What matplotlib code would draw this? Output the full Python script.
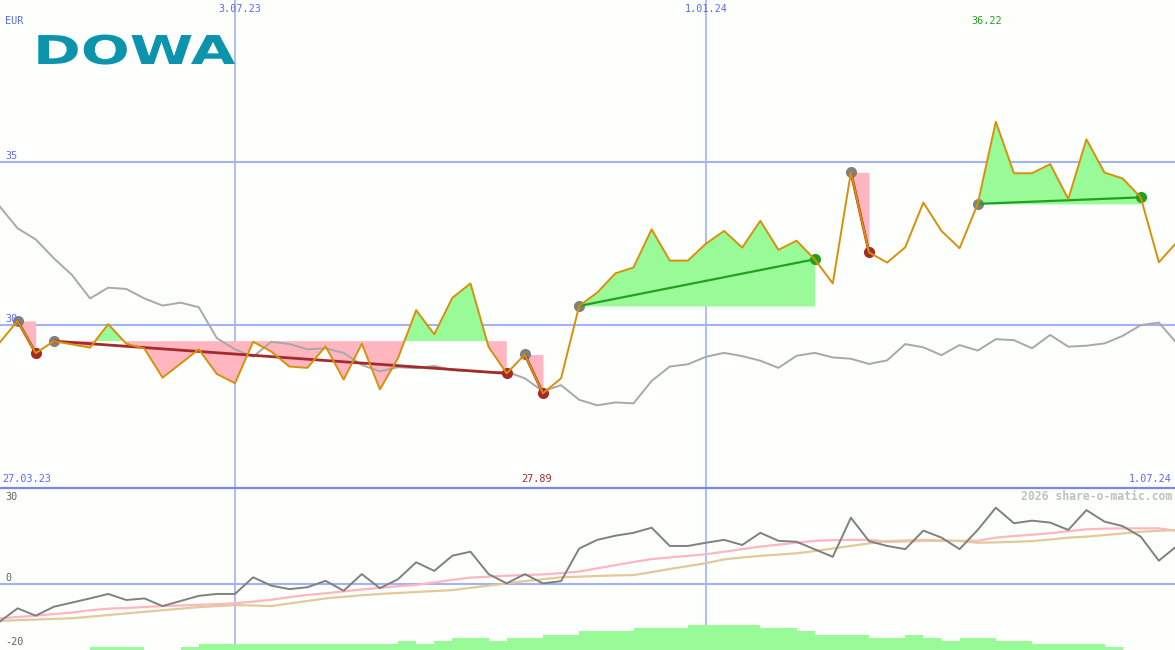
import matplotlib
matplotlib.use('Agg')
import matplotlib.pyplot as plt
import numpy as np
from matplotlib.patheffects import AbstractPathEffect
from matplotlib.transforms import Affine2D

# ---------------- data (weekly samples, index 0 = 3.04.23 ... 65 = 1.07.24) ----------------
price = [29.44, 30.11, 29.12, 29.49, 29.39, 29.29, 30.01, 29.41, 29.26, 28.37,
         28.80, 29.24, 28.48, 28.20, 29.47, 29.17, 28.71, 28.67, 29.33, 28.31,
         29.41, 28.01, 28.97, 30.44, 29.70, 30.82, 31.26, 29.31, 28.50, 29.08,
         27.89, 28.35, 30.57, 30.98, 31.57, 31.75, 32.92, 31.96, 31.96, 32.48,
         32.87, 32.36, 33.18, 32.29, 32.57, 32.00, 31.26, 34.67, 32.21, 31.90,
         32.37, 33.74, 32.87, 32.34, 33.70, 36.22, 34.64, 34.64, 34.92, 33.85,
         35.68, 34.66, 34.48, 33.90, 31.91, 32.53]

benchmark = [33.63, 32.95, 32.61, 32.03, 31.52, 30.80, 31.13, 31.09, 30.80, 30.58,
             30.67, 30.53, 29.58, 29.24, 29.01, 29.47, 29.40, 29.24, 29.27, 29.13,
             28.76, 28.56, 28.69, 28.66, 28.73, 28.60, 28.57, 28.53, 28.55, 28.35,
             27.95, 28.14, 27.69, 27.52, 27.61, 27.58, 28.27, 28.71, 28.78, 29.01,
             29.13, 29.03, 28.89, 28.67, 29.04, 29.13, 28.99, 28.95, 28.79, 28.90,
             29.40, 29.30, 29.06, 29.37, 29.20, 29.55, 29.52, 29.27, 29.68, 29.32,
             29.35, 29.42, 29.65, 29.98, 30.06, 29.42]

perf = [-11.9, -7.7, -10.0, -7.2, -5.9, -4.6, -3.2, -5.1, -4.6, -7.0,
        -5.4, -3.8, -3.2, -3.2, 2.0, -0.6, -1.7, -1.1, 0.9, -2.2,
        3.0, -1.4, 1.4, 6.7, 4.0, 8.75, 10.0, 3.0, 0.1, 3.0,
        0.1, 0.8, 11.0, 13.7, 15.0, 15.9, 17.5, 11.8, 11.8, 12.8,
        13.7, 12.1, 15.9, 13.4, 13.1, 10.75, 8.4, 20.6, 13.3, 11.8,
        10.8, 16.6, 14.4, 10.8, 16.8, 23.75, 18.9, 19.7, 19.1, 16.8,
        23.0, 19.4, 18.0, 14.7, 7.2, 11.8]

avg_fast = [-10.8, -10.4, -10.0, -9.5, -9.0, -8.3, -7.8, -7.6, -7.3, -7.0,
            -6.8, -6.6, -6.4, -6.1, -5.6, -5.0, -4.2, -3.5, -3.0, -2.4,
            -1.8, -1.3, -0.8, -0.4, 0.4, 1.2, 1.9, 2.2, 2.5, 2.7,
            2.9, 3.3, 3.8, 4.8, 5.8, 6.8, 7.7, 8.2, 8.7, 9.2,
            10.0, 10.8, 11.6, 12.2, 12.8, 13.4, 13.6, 13.7, 13.7, 13.1,
            13.2, 13.4, 13.4, 13.4, 13.4, 14.4, 14.9, 15.3, 15.75, 16.4,
            17.0, 17.2, 17.3, 17.3, 17.3, 16.5]

avg_slow = [-11.6, -11.4, -11.2, -11.0, -10.8, -10.3, -9.8, -9.3, -8.8, -8.3,
            -7.8, -7.3, -7.0, -6.7, -6.8, -7.0, -6.2, -5.4, -4.6, -4.1,
            -3.6, -3.2, -2.9, -2.6, -2.3, -2.0, -1.3, -0.6, 0.1, 0.8,
            1.4, 2.0, 2.2, 2.4, 2.6, 2.7, 3.6, 4.6, 5.5, 6.4,
            7.6, 8.2, 8.7, 9.1, 9.5, 10.2, 11.0, 11.8, 12.6, 13.3,
            13.5, 13.7, 13.5, 13.3, 12.8, 12.9, 13.1, 13.3, 13.8, 14.4,
            14.7, 15.2, 15.7, 16.25, 16.5, 16.8]

# step bars (one value per week interval)
bars = [0, 0, 0, 0, 0, 1, 1, 1, 0, 0,
        1, 2, 2, 2, 2, 2, 2, 2, 2, 2,
        2, 2, 3, 2, 3, 4, 4, 3, 4, 4,
        5, 5, 6, 6, 6, 7, 7, 7, 8, 8,
        8, 8, 7, 7, 6, 5, 5, 5, 4, 4,
        5, 4, 3, 4, 4, 3, 3, 2, 2, 2,
        2, 1, 0, 0, 0]

# signal periods: (start index, end index, result)
signals = [(1, 2, 'loss'), (3, 28, 'loss'), (29, 30, 'loss'),
           (32, 45, 'gain'), (47, 48, 'loss'), (54, 63, 'gain')]

date_idx = [13, 39]
date_labels = ['3.07.23', '1.01.24']
price_grid = [35, 30]
first_date = '27.03.23'
last_date = '1.07.24'
max_label = '36.22'
min_label = '27.89'

# ---------------- style ----------------
W, H = 1175, 650
BG = '#fdfffd'
GRID = '#a2b2f2'
BORDER = '#7787ea'
BLUE_TXT = '#5a6af0'
ORANGE = '#d8900a'
GREEN_FILL = '#98fb98'
PINK_FILL = '#ffb6c1'
LOSS = '#a52a2a'
GAIN = '#22a022'
MONO = 'DejaVu Sans Mono'

idx = np.arange(len(price))
price_a = np.array(price)

fig = plt.figure(figsize=(W / 100, H / 100), dpi=100, facecolor=BG)

# x mapping: pixel = -0.5 + 18.115 * index
XL = (0.5 / 18.115, 1175.5 / 18.115)
top_h = 487
ax1 = fig.add_axes([0, 1 - top_h / H, 1, top_h / H])
ax1.set_facecolor(BG)
ax1.set_xlim(*XL)
ax1.set_ylim(30 - 162.5 / 32.6, 30 + 324.5 / 32.6)
ax1.axis('off')

for p in price_grid:
    ax1.axhline(p, color=GRID, lw=1.5, zorder=0)
for d in date_idx:
    ax1.axvline(d, color=GRID, lw=1.2, zorder=0)

ax1.plot(idx, benchmark, color='#a8a8a8', lw=1.4, zorder=2)

for s, e, kind in signals:
    xs = idx[s:e + 1]
    ys = price_a[s:e + 1]
    base = price_a[s]
    ax1.fill_between(xs, ys, base, where=ys >= base, interpolate=True,
                     color=GREEN_FILL, lw=0, zorder=1)
    ax1.fill_between(xs, ys, base, where=ys <= base, interpolate=True,
                     color=PINK_FILL, lw=0, zorder=1)
    col = LOSS if kind == 'loss' else GAIN
    ax1.plot(idx[s], price_a[s], 'o', color='#808080', ms=8, mec='none', zorder=2.5)
    ax1.plot(idx[e], price_a[e], 'o', color=col, ms=8, mec='none', zorder=2.5)
    ax1.plot([idx[s], idx[e]], [price_a[s], price_a[e]], color=col,
             lw=2.0 if kind == 'loss' else 1.6, zorder=2.8, solid_capstyle='butt')

ax1.plot(idx, price, color=ORANGE, lw=1.4, zorder=3)

# ---------------- bottom panel ----------------
bot_h = H - top_h
ax3 = fig.add_axes([0, 0, 1, bot_h / H])
ax3.set_facecolor(BG)
ax3.set_xlim(*XL)
ax3.set_ylim(0, bot_h / 3.1)
ax3.axis('off')
for d in date_idx:
    ax3.axvline(d, color=GRID, lw=1.2, zorder=0)
ax3.bar(idx[:len(bars)], bars, width=1.0, align='edge', color=GREEN_FILL,
        lw=0, zorder=1)

ax2 = fig.add_axes([0, 0, 1, bot_h / H])
ax2.patch.set_alpha(0)
ax2.set_xlim(*XL)
ax2.set_ylim(-(650 - 583.7) / 3.2, (583.7 - 487) / 3.2)
ax2.axis('off')
ax2.axhline(0, color=GRID, lw=1.5, zorder=0)
ax2.axhline(30, color=BORDER, lw=1.6, zorder=0, clip_on=False)
ax2.plot(idx, avg_fast, color='#ffb6c1', lw=1.6, zorder=2)
ax2.plot(idx, avg_slow, color='#e3c99a', lw=1.6, zorder=2)
ax2.plot(idx, perf, color='#808080', lw=1.4, zorder=3)

# ---------------- texts ----------------
def ftxt(px, py, s, **kw):
    fig.text(px / W, 1 - py / H, s, **kw)

small = dict(family=MONO, fontsize=7.3)
ftxt(5, 21, 'EUR', color=BLUE_TXT, ha='left', va='center', **small)
ftxt(5, 156, '35', color=BLUE_TXT, ha='left', va='center', **small)
ftxt(5, 319, '30', color=BLUE_TXT, ha='left', va='center', **small)
ftxt(240, 9, date_labels[0], color=BLUE_TXT, ha='center', va='center', **small)
ftxt(706, 9, date_labels[1], color=BLUE_TXT, ha='center', va='center', **small)
ftxt(987, 21, max_label, color=GAIN, ha='center', va='center', **small)
ftxt(2, 479, first_date, color=BLUE_TXT, ha='left', va='center', **small)
ftxt(537, 479, min_label, color=LOSS, ha='center', va='center', **small)
ftxt(1172, 479, last_date, color=BLUE_TXT, ha='right', va='center', **small)
ftxt(5, 497, '30', color='#606060', ha='left', va='center', **small)
ftxt(5, 578, '0', color='#606060', ha='left', va='center', **small)
ftxt(5, 642, '-20', color='#606060', ha='left', va='center', **small)
ftxt(1172, 496, '2026 share-o-matic.com', color='#c0c0c0', ha='right',
     va='center', family=MONO, fontsize=8.3, fontweight='bold')


class HStretch(AbstractPathEffect):
    def __init__(self, sx):
        super().__init__()
        self.sx = sx

    def draw_path(self, renderer, gc, tpath, affine, rgbFace=None):
        renderer.draw_path(gc, tpath, Affine2D().scale(self.sx, 1.0) + affine, rgbFace)


ftxt(33, 64, 'DOWA', color='#0b94ac', ha='left', va='baseline',
     family='DejaVu Sans', fontweight='bold', fontsize=28.6,
     path_effects=[HStretch(1.45)])

fig.savefig('out.png', dpi=100, facecolor=BG)
